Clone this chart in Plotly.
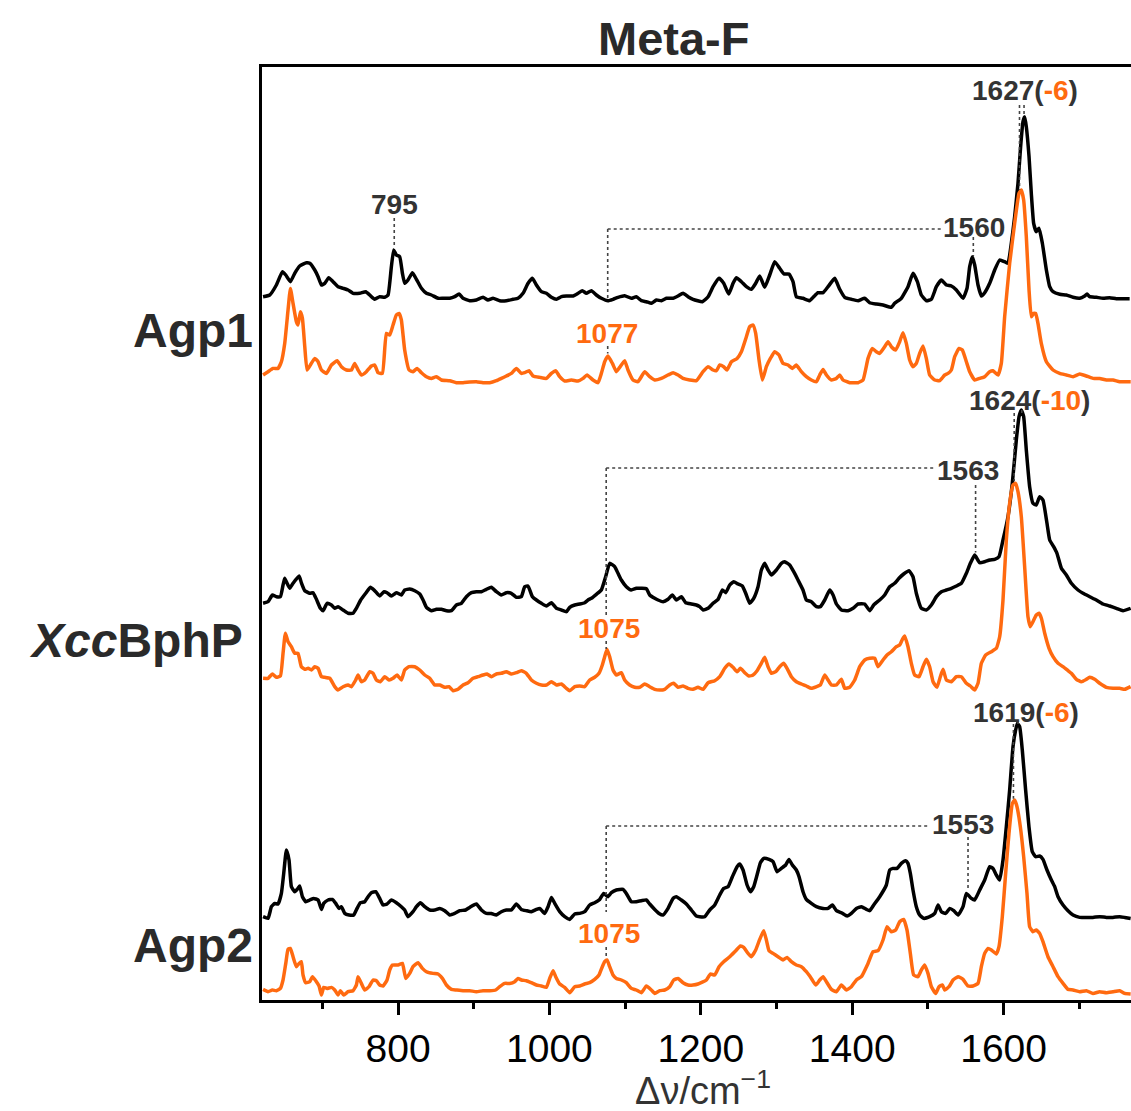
import numpy as np
import plotly.graph_objects as go

# ---------------- data (wavenumber cm^-1, intensity a.u. above each baseline) ----------------
AGP1_DARK_WN = [621.7,630.5,639.3,647.3,651.7,657.8,663.5,670.1,679,683.4,690,694.4,698.8,703.2,708.5,714.2,720.8,727.4,734,740.6,749.4,757.3,762.6,769.2,775.8,782.4,786.8,791.2,794.3,797.8,802.2,805.8,808.8,813.2,819,824.3,830.9,837.5,844.1,852.9,859.5,868.3,874.9,880.6,885.9,894.7,903.5,912.3,918.9,925.5,934.3,943.1,951.9,958.5,965.1,971.8,977.5,982.8,989.4,996,1002.6,1009.2,1015.8,1022.4,1031.2,1037.8,1043.5,1048.8,1055.4,1062,1068.6,1077.4,1084,1090.6,1099.4,1108.2,1114.8,1121.5,1128.1,1134.7,1141.3,1147.9,1154.5,1163.3,1169.9,1176.5,1183.1,1189.7,
                1202.1,1209.6,1216.2,1224.1,1230.2,1236.9,1242.6,1247,1253.6,1260.2,1266.8,1272.5,1277.8,1284.4,1291,1297.6,1304.2,1309.9,1316.5,1321.8,1326.2,1335,1343.8,1349.1,1354.9,1361.5,1368.1,1376.9,1383.5,1390.1,1398.9,1407.7,1416.5,1423.1,1431.9,1440.7,1451.7,1456.1,1464.9,1473.7,1480.3,1486.1,1491.3,1498,1504.6,1511.2,1517.8,1524.4,1531,1537.6,1546.4,1551.7,1555.2,1558.7,1561.8,1566.2,1570.6,1575,1581.6,1588.2,1594.8,1601.4,1605.8,1610.2,1614.6,1619,1622.5,1625.6,1627.8,1630,1633.6,1636.6,1639.7,1643.2,1646.8,1651.2,1656.5,1660.9,1665.3,1674.1,1682.9,1691.7,1700.5,1707.1,1710.2,1713.7,1722.5,1731.3,1740.1,1748.9,1757.7,1766.5]
AGP1_DARK_I = [1.3,3,13,26.3,23,16.3,24.7,32,35.3,34.7,28,21.3,13,14.7,20.3,16.3,11.3,9.7,8,4.7,4.7,6.3,3,-1.3,1.3,0.7,3,31.3,48,43,41.3,24.7,14.7,18,25.3,18.7,9.7,4.7,3,-0.3,-0.3,-0.3,1.3,4,-0.3,-2.7,-2,0.7,-2,-0.3,-2.7,-2.7,-1.3,-0.3,4.7,14.7,19.7,13,6.3,4.7,0.7,-1.3,1.3,2,2,4.7,7.3,4.7,7.3,3,-0.3,-2.7,-1.3,0.7,2.3,-0.3,1.3,-2.7,-3.7,-5.3,-2,-2.7,-0.3,-0.3,2,4.7,1.3,-1.3,
               -3.7,1.3,11.3,19.7,14.7,4,14.7,20.3,16.3,11.3,8.7,14.7,22,10.7,23,36.3,29.7,24,24,16.3,1.3,-0.3,-2.7,1.3,5.3,5.3,11.3,19.7,8.7,0.7,-1.3,-2.7,-0.3,-4.7,-6,-7,-9.3,-5.3,-0.3,11.3,24.7,16.3,3,-2.7,-1.3,11.3,18,13,12,8,-0.3,9.7,31.3,41.3,33,13,2,5.3,14.7,28,38,36.3,34.7,54.7,81.3,114.7,151.3,176.3,181.3,171.3,141.3,104.7,74.7,66.3,69.7,54.7,28,11.3,6.3,3.7,3,0.7,-0.3,2,4,1.3,0.7,-0.3,0.3,-0.7,-0.7,-0.7]

AGP1_LIGHT_WN = [621.7,628.3,634.9,641.5,645.9,650.3,654.7,657.8,661.3,665.7,667.9,671,673.7,676.8,679.8,684.2,690,694.4,698.8,705.4,712,719.5,725.2,731.8,738.4,742.8,747.2,751.6,758.2,764.8,769.2,773.6,779.3,784.6,789,793.4,797.8,801.4,804.4,808.8,814.6,819.8,825.1,830.9,837.5,844.1,850.7,857.3,868.3,877.1,885.9,894.7,903.5,912.3,921.1,929.9,936.5,943.1,949.7,956.3,962.9,967.3,973.1,978.4,987.2,996,1002.6,1008.3,1013.6,1020.2,1029,1037.8,1044.4,1049.7,1057.6,1064.2,1068.6,1073,1077.4,1083.2,1088.4,1092.8,1099.4,1103.8,1110.4,1117,1125.9,1132.5,1139.1,1147.9,1156.7,1163.3,1169.9,1176.5,1185.3,1194.1,
                 1202.9,1209.6,1216.2,1220.6,1225,1230.2,1234.6,1240.4,1247.9,1253.6,1260.2,1264.6,1269,1272.5,1276.9,1281.3,1286.6,1291.9,1297.6,1303.3,1308.6,1315.2,1320.9,1326.2,1332.8,1339.4,1346,1352.7,1357.1,1361.5,1365.9,1372.5,1379.1,1383.5,1387.9,1396.7,1407.7,1414.3,1420.9,1426.6,1431.9,1436.3,1442.9,1447.3,1451.7,1457.4,1462.7,1467.1,1471.5,1475.9,1480.3,1484.7,1489.1,1493.5,1497.9,1502.3,1509,1515.6,1522.2,1526.6,1531,1535.4,1541.1,1545.5,1550.8,1555.2,1561.8,1568.4,1575,1581.6,1586,1592.6,1597,1601.4,1608,1614.6,1620.3,1623.4,1626.5,1630,1633.6,1636.6,1639.7,1642.4,1645.4,1649.8,1656.5,1665.3,1674.1,1682.9,1691.7,1700.5,1709.3,1718.1,1726.9,1735.8,1744.5,1753.3,1762.1,1767.9]
AGP1_LIGHT_I = [6.7,10,13.3,13.3,20,38.3,71.7,93.3,78.3,60,56.7,70,63.3,35,11.7,16.7,23.3,20,11.7,8.3,16.7,21,15,11.7,11.7,18.3,11.7,6.7,10,15.7,16.7,9,8.3,48.3,46.7,56.7,66.7,68.3,61.7,31.7,11.7,10,13.3,9,5,3.3,5,1.7,1,-1,-1,-0.3,0,-1,-1,1,3.3,5.7,8.3,13.3,8.3,9,11,5.7,4.3,3.3,8.3,11,5,0.7,1.7,0.7,3.3,6.7,1.7,-1,8.3,20,25.7,18.3,10,14.3,21,11.7,1.7,0,10,5,1.7,3.3,6.7,9,6.7,3.3,1.7,1,
                10,15,11.7,11,16.7,15,11.7,20,23.3,30,45,55,56.7,48.3,21.7,1.7,15,23.3,30,26.7,18.3,16.7,13.3,16.7,10,5,1.7,0,6.7,12.3,6.7,1.7,3.3,6.7,1.7,-1,-1,1.7,23.3,33.3,30,28.3,35,40,35,31.7,40,49,38.3,21.7,15,18.3,28.3,35.7,23.3,6.7,1.7,1,6.7,8.3,11.7,25,33.3,31.7,20,10,1.7,3.3,5,10,11,6.7,18.3,65,118.3,158.3,188.3,191.7,181.7,145,91.7,65,68.3,68.3,58.3,38.3,20,11.7,8.3,6.7,5,7.7,5.7,3.3,3.3,1.7,1.7,0,0,0]

XCC_DARK_WN = [621.7,628.3,634,639.3,644.6,648.1,650.3,653.4,656.9,661.3,669.3,672.3,676.8,683.4,687.8,692.2,697.4,701,706.2,712,716.4,720.8,727.4,734,740.6,745,750.7,757.3,763.5,769.2,775.8,781.5,785.5,791.2,797.8,804.4,808.8,815.4,822.1,828.7,833.1,837.5,844.1,850.7,857.3,863.9,870.5,877.1,883.7,890.3,896.9,903.5,910.1,916.7,923.3,929.9,936.5,943.1,949.7,956.3,962.9,967.3,971.7,977.5,982.8,989.4,996,1002.6,1009.2,1015.8,1022.4,1026.8,1033.4,1040,1046.6,1051,1055.4,1062,1068.6,1074.3,1079.6,1086.2,1090.6,1095,1101.6,1108.2,1114.8,1121.5,1128.1,1132.5,1139.1,1143.5,1150.1,1156.7,1162.4,1167.7,1174.3,1180,1187.5,1194.1,1198.5,
               1203,1209.6,1216.2,1222.8,1228.5,1232.9,1238.2,1243.5,1249.2,1254.9,1259.3,1264.6,1269.9,1275.6,1280,1284.4,1288.8,1293.2,1299.8,1306.4,1310.8,1317.4,1322.7,1328.4,1335,1339.4,1346,1352.7,1357.9,1363.7,1370.3,1374.7,1379.1,1385.7,1394.5,1401.1,1407.7,1416.5,1423.1,1428.4,1436.3,1442.9,1449.5,1456.1,1461.8,1468,1475,1480.3,1484.7,1491.3,1497.9,1504.6,1511.2,1517.8,1524.4,1531,1537.6,1544.2,1550.8,1556.1,1561.8,1568.4,1575,1581.6,1588.2,1593.9,1599.2,1605.8,1611.5,1616.8,1620.4,1623.4,1626.5,1630,1634.4,1638.8,1643.2,1647.6,1652,1657.3,1660.9,1666.1,1670.5,1676.3,1682.9,1689.5,1698.3,1704.9,1713.7,1722.5,1731.3,1740.1,1748.9,1757.7,1767.8]
XCC_DARK_I = [1.7,3.3,10,8.3,8.3,20,26.7,21.7,16.7,21.7,29,22.3,14.3,11.7,12.3,5.7,-3.3,-5.7,1.7,0,-3.3,-1.7,-5,-8.3,-8.3,-3.3,5,11.7,17.7,14.3,9,13.3,12.3,9,12.3,10,15,16,14.3,11,5,-2.3,-5.7,-4.3,-4.3,-5.7,-5.7,0,1.7,8.3,12.3,13.3,13.3,15.7,17.7,13.3,10,12.3,11.7,7.7,8.3,18.3,19,8.3,5,1.7,-1,2.3,-3.3,-5,-6.7,-2.3,0,1,2.3,5,6.7,10.7,15,28.3,41.7,38.3,31.7,25,18.3,15,16.7,16.7,16.3,10,6.7,5,3.3,5.7,10,5,8.3,2.3,1,0,-1.7,
              -5,-3.3,1.7,5.7,15,12.3,20,23.3,21,19,11.7,1.7,6.7,18.3,35,41.7,35,30,35,41.7,43.3,40,33.3,25,15,5,3.3,-1.7,-1.7,5,15,10,1,-5,-5.7,-3.3,1,1,-5.7,0,5,10,18.3,21.7,26.7,31,34.3,28.3,11.7,-3.3,-5,0,8.3,13.3,15,16.7,19,21.7,31.7,41.7,50,42.3,43.3,45,45.7,48.3,65,88.3,121.7,165,188.3,195,188.3,155,118.3,101.7,100,108.3,105,81.7,65,58.3,51.7,36.7,30,21.7,15,11.7,8.3,5,1,-1,-3.3,-5.7,-3.3]

XCC_LIGHT_WN = [621.7,628.3,634,639.3,644.6,648.1,651.2,654.7,659.1,663.5,667.9,672.3,676.8,681.2,685.6,690,694.4,698.8,703.2,709.8,716.4,720.8,727.4,734,738.4,744.1,747.2,751.6,756,762.6,767,771.4,776.7,782.4,788.1,793.4,798.7,804.4,808.8,814.6,822.1,828.7,835.3,841.9,848.5,855.1,861.7,867.4,872.7,879.3,885.9,892.5,899.1,905.7,912.3,917.6,923.3,929.9,936.5,943.1,949.7,956.3,962.9,969.5,976.1,982.8,989.4,996,1002.6,1009.2,1015.8,1022.4,1026.8,1033.4,1040,1046.6,1053.2,1059.8,1065.5,1069.9,1073,1076.1,1079.6,1084,1088.4,1095,1099.4,1106,1112.6,1119.2,1125.9,1132.5,1139.1,1145.7,1152.3,1158.9,1164.2,1169.9,1176.5,1183.1,1189.7,1196.3,
                1203,1209.6,1218.4,1225,1231.6,1237.3,1242.6,1247.9,1252.3,1258,1263.7,1269,1274.3,1280,1284.4,1288.8,1293.2,1299,1304.2,1309.5,1313.9,1319.6,1326.2,1332.8,1339.4,1346,1352.7,1357.9,1363.7,1368.1,1372.5,1379.1,1385.7,1390.1,1396.7,1403.3,1409.9,1416.5,1423.1,1429.7,1434.1,1440.7,1446,1451.7,1458.3,1462.7,1466.3,1469.3,1473.7,1478.1,1482.5,1488.3,1493.5,1498,1502.3,1506.8,1512,1516.4,1520,1524.4,1531,1537.6,1544.2,1550.8,1556.1,1561.8,1566.2,1570.6,1576.3,1583.8,1590.4,1594.8,1599.2,1603.6,1608,1612.4,1615.9,1619,1623.4,1627.8,1632.2,1635.3,1638.8,1643.2,1646.8,1649.9,1654.3,1660,1665.3,1671.9,1678.5,1685.1,1689.5,1696.1,1702.7,1709.3,1713.7,1720.3,1726.9,1735.7,1744.5,1753.3,1759.9,1767.8]
XCC_LIGHT_I = [11.7,11.7,16,12.7,14,36.7,56.7,48.3,43.3,36.7,36.7,23.3,20.7,21.7,20,23.3,21.7,13.3,12.7,11.7,3.3,0,3.3,5,3.3,10,15,8.3,10,18.3,16.7,10,8.3,13.3,10,11.7,15,10,20,23.3,23.3,20,15,11.7,5,5,2.7,3.3,-0.7,0.7,5,7.3,11.7,13.3,15,16,13.3,16,16.7,18.3,16,17.3,19.3,16.7,10,6.7,5,5,8.3,5,6,1.7,-0.7,3.3,4,3.3,10,12.7,16.7,25,33.3,40.7,33.3,20,15,17.3,10,5,2.7,2.7,6,3.3,0.7,0,0.7,5,6.7,2.7,4,1.7,0.7,2.7,
               0.7,7.3,9.3,13.3,21.7,26,22.7,18.3,21.7,17.3,14,15,19.3,26.7,32.7,23.3,16.7,18.3,23.3,26.7,21.7,13.3,8.3,6,4,1.7,3.3,5,15,10,5,5,10.7,1.7,2.7,10,23.3,30,31.7,31.7,23.3,30,35,38.3,43.3,45,50.7,54,43.3,26.7,15,13.3,23.3,30.7,23.3,8.3,2.7,13.3,20.7,10,8.3,13.3,13.3,6.7,4,0,6.7,26.7,35,38.3,41.7,53.3,90,150,186.7,205,206.7,198.3,173.3,123.3,73.3,63.3,68.3,75,76.7,71.7,56.7,41.7,33.3,26.7,23.3,19.3,16.7,10.7,8.3,10.7,12.7,10.7,6.7,2.7,1.7,1.7,0.7,3.3]

AGP2_DARK_WN = [621.7,628.3,632.7,637.1,641.5,645.9,649,652.5,656,659.1,663.5,667.9,670.1,673.7,678.1,683.4,688.6,694.4,698.8,701.8,707.6,713.3,717.7,722.1,725.2,729.6,735.3,741.5,745.9,750.3,756,760.4,764.8,770.5,775.8,780.2,785.5,791.2,797.8,804.4,808.8,813.2,819.8,824.3,829.5,835.3,841.9,848.5,855.1,861.7,868.3,874.9,881.5,889.4,894.7,903.5,910.1,916.7,923.3,929.9,936.5,943.1,949.7,956.3,962.9,969.5,976.1,982.8,987.2,993.8,998.2,1002.6,1007,1013.6,1020.2,1026.8,1033.4,1040,1046.6,1053.2,1059.8,1066.4,1071.7,1077.4,1081.8,1088.4,1097.2,1101.6,1108.2,1114.8,1121.5,1128.1,1132.5,1139.1,1144.8,1150.1,1156.7,1163.3,1167.7,1174.3,1180.9,1187.5,1194.1,1198.5,
                1205.2,1211.8,1218.4,1225,1230.2,1236,1241.7,1247.9,1251.4,1255.8,1261.1,1265.5,1269.9,1274.3,1278.7,1283.1,1290.1,1295.4,1300.7,1306.4,1312.1,1316.5,1320.9,1326.2,1329.8,1335,1339.4,1346,1352.7,1361.5,1368.1,1373.8,1379.1,1385.7,1393.2,1398.9,1405.5,1412.1,1418.7,1423.1,1428.4,1436.3,1445.1,1449.5,1453.9,1459.2,1464.9,1470.6,1473.7,1476.8,1480.3,1484.7,1489.1,1494.4,1502.4,1509,1513.4,1517.8,1523.5,1528.8,1534.1,1539.8,1546.4,1550.8,1557.4,1561.8,1568.4,1575,1581.6,1586,1590.4,1594.8,1599.2,1603.6,1608,1612.4,1615.9,1618.1,1621.2,1624.7,1629.1,1633.5,1637.9,1642.4,1647.6,1652,1657.3,1663.1,1667.5,1671.9,1678.5,1685.1,1691.7,1700.5,1709.3,1718.1,1726.9,1735.7,1744.5,1753.3,1759.9,1767.8]
AGP2_DARK_I = [0,-1.7,10,13.3,12.7,23.3,43.3,66.7,56.7,30,25,28.3,30.7,20,15,16.7,18.3,16.7,7.3,13.3,16.7,17.3,13.3,8.3,10,3.3,1.7,1.7,8.3,14,15,20,24,25,18.3,11.7,12.7,16.7,14,10,6.7,0,5,10,14,10,6.7,6.7,8.3,6,1.7,3.3,6,6.7,9.3,12.7,6.7,3.3,3.3,1.7,5,6.7,6.7,12.7,7.3,6,5,7.3,8.3,3.3,10,19.3,13.3,5,0,-2.7,2.7,3.3,5,11.7,14,17.3,23.3,20,24,26.7,27.3,23.3,15,15,16,16.7,12.7,7.3,3.3,1.7,8.3,18.3,20,16.7,12.7,6.7,0.7,0,
               0,6.7,11.7,21.7,28.3,30,40,50,52.7,46.7,31.7,25,30,41.7,54,58.3,57.3,55,45,48.3,51.7,57.3,51.7,46.7,40,25,17.3,13.3,10,8.3,8.3,11.7,6,4,0.7,3.3,8.3,10,7.3,6,11.7,20,31.7,46.7,48.3,48.3,53.3,56,53.3,43.3,26.7,10,1.7,-1.7,0,3.3,11.7,5,3.3,8.3,6,1.7,10,23.3,18.3,16.7,26.7,36.7,50,48.3,41.7,36.7,56.7,90,126.7,170,186.7,193.3,190,166.7,126.7,90,65,60,60.7,57.3,46.7,36.7,30,20,11.7,6,1.7,-0.7,-0.7,-0.7,0,-0.7,-0.7,0,-0.7,-1.7]

AGP2_LIGHT_WN = [621.7,628.3,634,639.3,644.6,648.1,651.7,654.7,657.8,661.3,665.7,669.3,672.3,674.5,678.1,683.4,686.9,692.2,695.7,698.8,701.8,706.2,712,716.4,720.8,723.9,728.3,734,740.6,745,747.2,751.6,756,761.7,767,771.4,775.8,780.2,785.5,789,792.6,800,805.8,810.2,815.4,819.8,826.4,832.2,837.5,846.3,852.9,858.6,863.9,870.5,877.1,885.9,894.7,903.5,912.3,921.1,929,934.3,940.9,947.5,954.1,958.5,962.9,969.5,976.1,982.8,989.4,996,1000.4,1004.8,1008.3,1013.6,1020.2,1026.8,1033.4,1040,1046.6,1053.2,1059.8,1065.5,1069.9,1073,1076.1,1079.6,1084,1088.4,1095,1101.6,1108.2,1114.8,1121.5,1128.1,1134.7,1139.1,1145.7,1152.3,1158.9,1164.2,1169.9,1176.5,1183.1,1189.7,1196.3,
                 1207.4,1212.6,1218.4,1224.1,1230.2,1238.2,1246.1,1252.3,1256.7,1262.4,1266.8,1272.5,1277.8,1283.1,1286.6,1290.1,1295.4,1302,1308.6,1313.9,1319.6,1326.2,1332.8,1339.4,1346,1351.8,1357.1,1361.5,1365.9,1372.5,1379.1,1385.7,1392.3,1398.9,1405.5,1412.1,1420.9,1427.5,1434.1,1440.7,1446,1451.7,1457.4,1462.7,1468,1472.4,1476.8,1481.2,1486.9,1491.3,1495.7,1500.1,1504.6,1510.3,1514.7,1519.1,1522.2,1527.9,1533.2,1539.8,1546.4,1553,1559.6,1566.2,1570.6,1575,1579.4,1583.8,1590.4,1593.9,1598.3,1602.7,1607.1,1611.5,1614.6,1617.7,1622.1,1626.5,1630.9,1634.4,1638.8,1643.2,1647.6,1652,1658.6,1665.3,1671.9,1678.5,1685.1,1691.7,1700.5,1709.3,1718.1,1726.9,1735.7,1744.5,1753.3,1759.9,1767.8]
AGP2_LIGHT_I = [2.3,0,1.7,1,3.3,11.7,28.3,42.3,43.3,35,25,28.3,30,16.7,9,10,15,10,5.7,-3.3,4.3,3.3,4.3,1.7,-3.3,1,-3.3,0,1,6.7,15,8.3,1.7,5,11.7,11,6.7,5.7,11.7,21.7,26.7,26.7,28.3,13.3,18.3,25,29,23.3,20,18.3,17.7,13.3,6.7,2.3,1.7,1,1,0,1,1,1.7,5,8.3,8.3,10,13.3,11.7,11,9,6.7,5.7,4.3,13.3,21,15,7.7,4.3,-1,5,5.7,7.7,9,12.3,16.7,25,30,31.7,25,16.7,13.3,11.7,9,3.3,1.7,-1,5.7,1.7,-1.7,1,1.7,5,11.7,13.3,9,6.7,6.7,7.7,
                11.7,17.7,16.7,25,30,35,41,45.7,44.3,38.3,35,41.7,52.3,61,51.7,41,38.3,35,31.7,34.3,30,26.7,25,20,13.3,6.7,11.7,15,10,2.3,0,6.7,1.7,5,11.7,15,28.3,40,41,51.7,65,60,61.7,70,72.3,61.7,38.3,16.7,15,21.7,26.7,18.3,5,-1.7,5,6.7,1.7,5,11.7,15,12.3,5.7,5.7,8.3,25,38.3,43.3,41.7,37.7,45,75,118.3,158.3,188.3,191.7,185,165,135,98.3,65,60,61.7,58.3,50,35,25,15,8.3,2.3,1.7,0,1,-1.7,0,-1,0,1,-1.7,-2.3]

# vertical offsets of the stacked spectra (a.u.)
OFFSET_AGP1_DARK, OFFSET_AGP1_LIGHT = 702.0, 618.3
OFFSET_XCC_DARK, OFFSET_XCC_LIGHT = 395.0, 310.0
OFFSET_AGP2_DARK, OFFSET_AGP2_LIGHT = 83.3, 8.3

SAMPLE_NAMES = ["Agp1", "<i>Xcc</i>BphP", "Agp2"]
MAJOR_TICKS = [800, 1000, 1200, 1400, 1600]
MINOR_TICKS = [700, 900, 1100, 1300, 1500, 1700]
X_RANGE = [620.3, 1768.3]
Y_RANGE = [0, 933]

BLACK = "#000000"
ORANGE = "#FF6A10"
GRAY = "#333333"
FONT = "Liberation Sans, Arial, sans-serif"

spectra = [
    (AGP1_DARK_WN, AGP1_DARK_I, OFFSET_AGP1_DARK, BLACK),
    (AGP1_LIGHT_WN, AGP1_LIGHT_I, OFFSET_AGP1_LIGHT, ORANGE),
    (XCC_DARK_WN, XCC_DARK_I, OFFSET_XCC_DARK, BLACK),
    (XCC_LIGHT_WN, XCC_LIGHT_I, OFFSET_XCC_LIGHT, ORANGE),
    (AGP2_DARK_WN, AGP2_DARK_I, OFFSET_AGP2_DARK, BLACK),
    (AGP2_LIGHT_WN, AGP2_LIGHT_I, OFFSET_AGP2_LIGHT, ORANGE),
]

fig = go.Figure()
for wn, inten, off, col in spectra:
    fig.add_trace(go.Scatter(
        x=wn, y=[off + v for v in inten], mode="lines",
        line=dict(color=col, width=3.5, shape="spline", smoothing=0.4),
        showlegend=False, hoverinfo="skip"))


def yat(wn, inten, off, x):
    return off + float(np.interp(x, wn, inten))


def dot(x0, y0, x1, y1):
    fig.add_shape(type="line", xref="x", yref="y", x0=x0, y0=y0, x1=x1, y1=y1,
                  line=dict(color="#444444", width=1.6, dash="dot"))


def label(x, y, text, color=GRAY, size=28):
    fig.add_annotation(x=x, y=y, xref="x", yref="y", text=text, showarrow=False,
                       font=dict(family=FONT, size=size, color=color),
                       xanchor="center", yanchor="middle")


def orange(s):
    return f"<span style='color:{ORANGE}'>{s}</span>"


# ---- Agp1 ----
s_d, s_l = spectra[0], spectra[1]
label(795, 796, "<b>795</b>")
dot(795, 782, 795, yat(*s_d[:3], 795) + 4)
label(1628.5, 910, "<b>1627(" + orange("-6") + ")</b>")
dot(1627, 895, 1627, yat(*s_d[:3], 1627) + 3)
dot(1621, 895, 1621, yat(*s_l[:3], 1621) + 3)
label(1561, 773, "<b>1560</b>")
dot(1560, 763, 1560, yat(*s_d[:3], 1560) + 4)
dot(1077, 771, 1518, 771)
dot(1077, 771, 1077, yat(*s_d[:3], 1077))
label(1076, 667, "<b>1077</b>", color=ORANGE)
dot(1077, 654, 1077, yat(*s_l[:3], 1077) + 3)

# ---- XccBphP ----
s_d, s_l = spectra[2], spectra[3]
label(1634, 600, "<b>1624(" + orange("-10") + ")</b>")
dot(1624, 587, 1624, yat(*s_d[:3], 1624) + 3)
dot(1614, 587, 1614, yat(*s_l[:3], 1614) + 3)
label(1552.6, 530, "<b>1563</b>")
dot(1563, 515, 1563, yat(*s_d[:3], 1563) + 4)
dot(1075, 532, 1509, 532)
dot(1075, 532, 1075, 385)
label(1079, 372, "<b>1075</b>", color=ORANGE)
dot(1075, 359, 1075, yat(*s_l[:3], 1075) + 3)

# ---- Agp2 ----
s_d, s_l = spectra[4], spectra[5]
label(1629.8, 288, "<b>1619(" + orange("-6") + ")</b>")
dot(1619, 276, 1619, yat(*s_d[:3], 1619) + 3)
dot(1613, 276, 1613, yat(*s_l[:3], 1613) + 3)
label(1546, 176, "<b>1553</b>")
dot(1553, 163, 1553, yat(*s_d[:3], 1553) + 4)
dot(1075, 174, 1502, 174)
dot(1075, 174, 1075, 88)
label(1079, 67, "<b>1075</b>", color=ORANGE)
dot(1075, 53, 1075, yat(*s_l[:3], 1075) + 3)

# sample names on the left
for name, yy, xr in zip(SAMPLE_NAMES, [670, 360, 55], [-0.008, -0.019, -0.008]):
    fig.add_annotation(x=xr, y=yy, xref="paper", yref="y", text=f"<b>{name}</b>",
                       showarrow=False, xanchor="right", yanchor="middle",
                       font=dict(family=FONT, size=48, color="#2a2a2a"))

# title
fig.add_annotation(x=0.473, y=1.031, xref="paper", yref="paper", text="<b>Meta-F</b>",
                   showarrow=False, xanchor="center", yanchor="middle",
                   font=dict(family=FONT, size=47, color="#2a2a2a"))
# x-axis title
fig.add_annotation(x=0.5075, y=-0.094, xref="paper", yref="paper",
                   text="Δν/cm<sup>−1</sup>", showarrow=False,
                   xanchor="center", yanchor="middle",
                   font=dict(family=FONT, size=38, color=GRAY))

fig.update_layout(
    width=1131, height=1111,
    margin=dict(l=262, r=0, t=67, b=111),
    paper_bgcolor="white", plot_bgcolor="white",
    xaxis=dict(range=X_RANGE, showgrid=False, zeroline=False,
               showline=True, linecolor="black", linewidth=3, mirror=True,
               ticks="outside", ticklen=12, tickwidth=3, tickcolor="black",
               tickvals=MAJOR_TICKS, ticktext=[str(v) for v in MAJOR_TICKS],
               tickfont=dict(family=FONT, size=39, color="black"),
               minor=dict(tickvals=MINOR_TICKS, ticks="outside", ticklen=6,
                          tickwidth=3, tickcolor="black", showgrid=False)),
    yaxis=dict(range=Y_RANGE, showgrid=False, zeroline=False, showticklabels=False,
               ticks="", showline=True, linecolor="black", linewidth=3, mirror=False),
)

fig.write_html("out.html")
